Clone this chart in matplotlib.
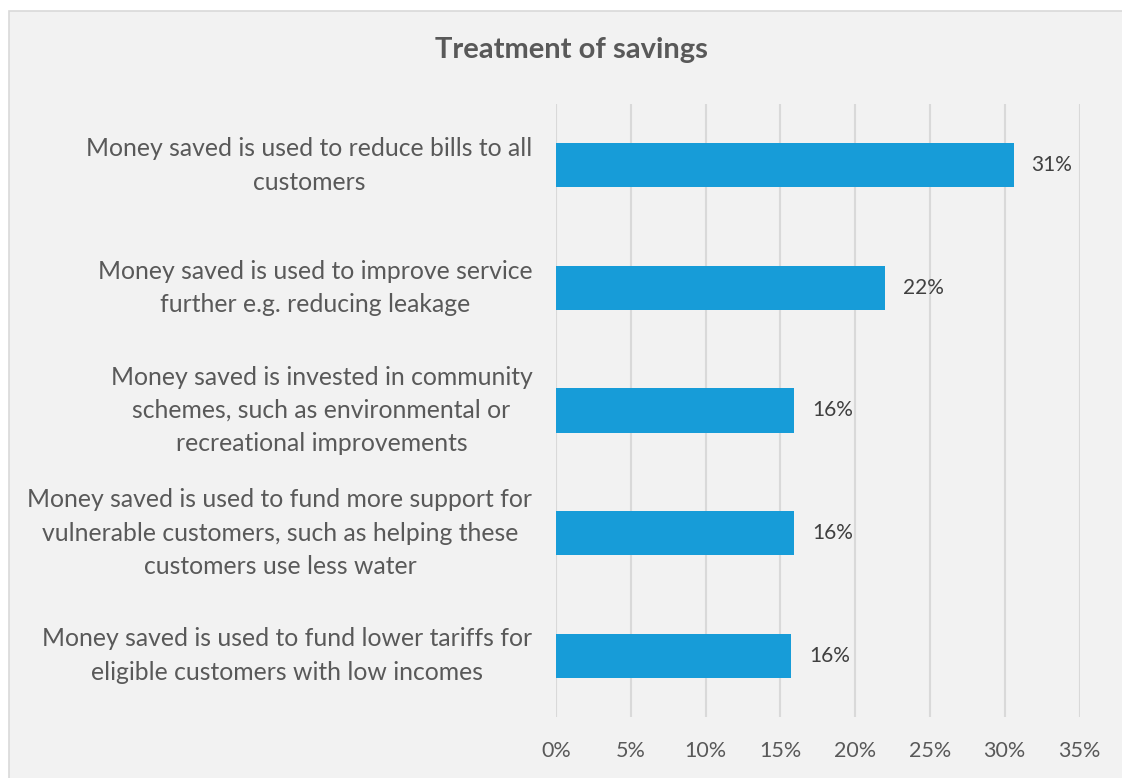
import matplotlib.pyplot as plt
import matplotlib.patches as patches
from matplotlib.ticker import FuncFormatter, MultipleLocator

plt.rcParams['font.family'] = ['Lato', 'DejaVu Sans']

# data, top to bottom
categories = [
    "Money saved is used to reduce bills to all\ncustomers",
    "Money saved is used to improve service\nfurther e.g. reducing leakage",
    "Money saved is invested in community\nschemes, such as environmental or\nrecreational improvements",
    "Money saved is used to fund more support for\nvulnerable customers, such as helping these\ncustomers use less water",
    "Money saved is used to fund lower tariffs for\neligible customers with low incomes",
]
shares = [30.6, 22.0, 15.9, 15.9, 15.7]

BAR_COLOR = '#179CD8'
BG = '#F2F2F2'
GRID = '#D9D9D9'
TEXT = '#595959'

fig = plt.figure(figsize=(11.22, 7.78), dpi=100, facecolor='white')

# chart area panel
panel = patches.Rectangle((9 / 1122, -0.01), 1.0, 1 - 11 / 778 + 0.01,
                          transform=fig.transFigure, facecolor=BG,
                          edgecolor=GRID, linewidth=1.2, zorder=-1)
fig.patches.append(panel)

ax = fig.add_axes([556 / 1122, 1 - 717 / 778, (1079.5 - 556) / 1122, (717 - 104) / 778])
ax.set_facecolor(BG)

y = list(range(len(categories)))
ax.barh(y, shares, height=0.36, color=BAR_COLOR, zorder=3)
for yi, v in zip(y, shares):
    ax.text(v + 1.2, yi, f"{v:.0f}%", va='center', ha='left',
            fontsize=15, color='#404040', zorder=4)

ax.set_xlim(0, 35)
ax.set_ylim(len(categories) - 0.5, -0.5)
ax.xaxis.set_major_locator(MultipleLocator(5))
ax.xaxis.set_major_formatter(FuncFormatter(lambda v, _: f"{v:.0f}%"))
ax.grid(axis='x', color=GRID, linewidth=1.5, zorder=0)
ax.set_yticks(y)
ax.set_yticklabels(categories, fontsize=17.8, color=TEXT,
                   multialignment='center', linespacing=1.55)
for lbl in ax.get_yticklabels():
    lbl.set_verticalalignment('center')
ax.tick_params(axis='y', length=0, pad=17)
ax.tick_params(axis='x', length=0, pad=17, labelsize=15.5, labelcolor=TEXT)
for s in ax.spines.values():
    s.set_visible(False)

fig.text(571 / 1122, 1 - 50 / 778, "Treatment of savings", ha='center', va='center',
         fontsize=21, fontweight='bold', color=TEXT)

fig.savefig('out.png', dpi=100, facecolor='white')
